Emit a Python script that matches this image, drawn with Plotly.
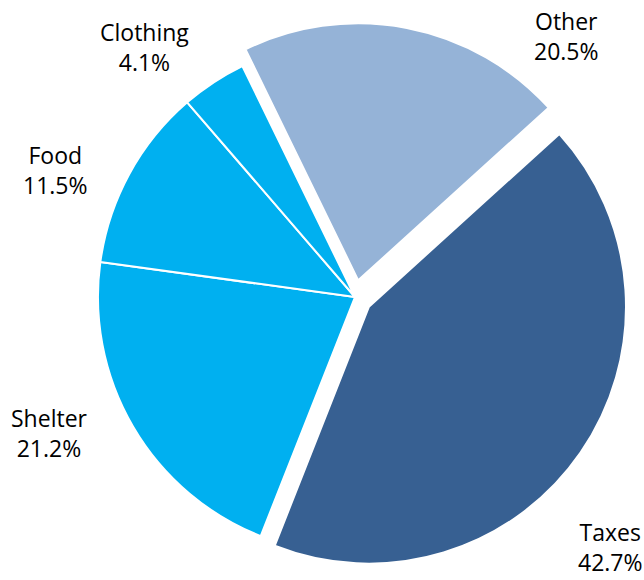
import plotly.graph_objects as go

# Household spending shares (percent), listed clockwise starting from "Other"
categories = ["Other", "Taxes", "Shelter", "Food", "Clothing"]
shares = [20.5, 42.7, 21.2, 11.5, 4.1]
colors = ["#95B3D7", "#376092", "#00B0F0", "#00B0F0", "#00B0F0"]
pulls = [0.066, 0.066, 0, 0, 0]

# Label anchor points in pixels (x from left, y from top)
label_px = {
    "Other": (566, 36),
    "Taxes": (610, 547),
    "Shelter": (49, 433),
    "Food": (55, 170),
    "Clothing": (144, 47),
}

W, H = 644, 580

fig = go.Figure(
    go.Pie(
        labels=categories,
        values=shares,
        sort=False,
        direction="clockwise",
        rotation=-26,
        pull=pulls,
        marker=dict(colors=colors, line=dict(color="white", width=2)),
        textinfo="none",
        hoverinfo="label+percent",
        showlegend=False,
        domain=dict(x=[81 / W, 629 / W], y=[1 - 571 / H, 1 - 23 / H]),
    )
)

for name, val in zip(categories, shares):
    px, py = label_px[name]
    fig.add_annotation(
        x=px / W,
        y=1 - py / H,
        xref="paper",
        yref="paper",
        xanchor="center",
        yanchor="middle",
        text=f"{name}<br>{val:.1f}%",
        showarrow=False,
        align="center",
        font=dict(family="Open Sans", size=23, color="#000000"),
    )

fig.update_layout(
    width=W,
    height=H,
    margin=dict(l=0, r=0, t=0, b=0),
    paper_bgcolor="white",
    plot_bgcolor="white",
)

fig.write_html("out.html")
